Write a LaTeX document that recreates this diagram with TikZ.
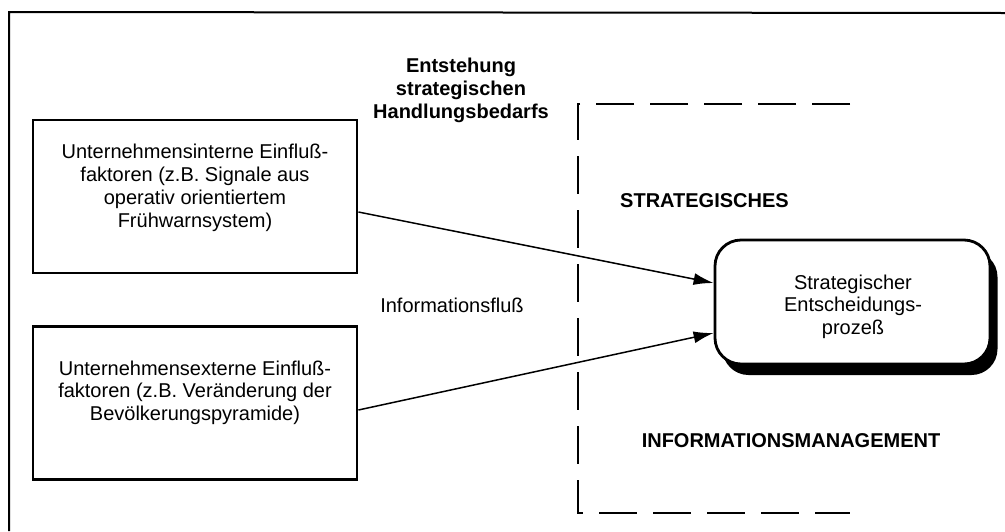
\documentclass[tikz,border=0pt]{standalone}
\usepackage{fontspec}
\setmainfont{Liberation Sans}
\usetikzlibrary{arrows.meta,calc}

\begin{document}
\begin{tikzpicture}[x=1pt,y=-1pt,
  txt/.style={font=\fontsize{20}{22.7}\selectfont, align=center, inner sep=0pt, anchor=base},
  boldtxt/.style={txt, font=\fontsize{20}{22.7}\selectfont\bfseries},
  factorbox/.style={draw, line width=2.8pt, minimum width=324pt, minimum height=153pt, inner sep=0pt},
  procbox/.style={draw, line width=2.8pt, rounded corners=26pt, minimum width=275pt, minimum height=124pt, inner sep=0pt, fill=white},
  procshadow/.style={fill=black, rounded corners=26pt, minimum width=275pt, minimum height=124pt, inner sep=0pt},
  flow/.style={line width=1.5pt, -{Latex[length=20pt,width=12pt]}},
  regionline/.style={line width=1.5pt, dash pattern=on 38pt off 16pt}
]
\useasboundingbox (0,0) rectangle (1005,531);

% outer frame (left and top edges)
\draw[line width=2pt] (9,531) -- (9,12) -- (1005,13);

% dashed region of the information management
\draw[regionline] (850,104) -- (578,104) -- (578,513) -- (850,513);

% influence factor boxes (text anchored at the baseline of the last line)
\node[factorbox] (intern) at (195,196.5) {};
\node[factorbox] (extern) at (195,403) {};

\node[txt] (interntxt) at (195,227) {Unternehmensinterne Einflu\ss-\\faktoren (z.B. Signale aus\\operativ orientiertem\\Frühwarnsystem)};
\node[txt] (externtxt) at (195,420.5) {Unternehmensexterne Einflu\ss-\\faktoren (z.B. Veränderung der\\Bevölkerungspyramide)};

% strategic decision process with drop shadow
\node[procshadow] (shadow) at (860,313) {};
\node[procbox] (proc) at (852.5,302) {};
\node[txt] (proctxt) at (853,334.5) {Strategischer\\Entscheidungs-\\proze\ss};

% headings and region labels
\node[boldtxt] (need) at (461,118) {Entstehung\\strategischen\\Handlungsbedarfs};
\node[txt] (flowlabel) at (452,312) {Informationsflu\ss};
\node[boldtxt, anchor=base west] (strat) at (620,207) {STRATEGISCHES};
\node[boldtxt] (infomgmt) at (791,447) {INFORMATIONSMANAGEMENT};

% information flows
\draw[flow] ($(intern.east)+(0,15.5)$) -- ($(proc.west)+(0,-19)$);
\draw[flow] ($(extern.east)+(0,7)$) -- ($(proc.west)+(0,31)$);
\end{tikzpicture}
\end{document}
